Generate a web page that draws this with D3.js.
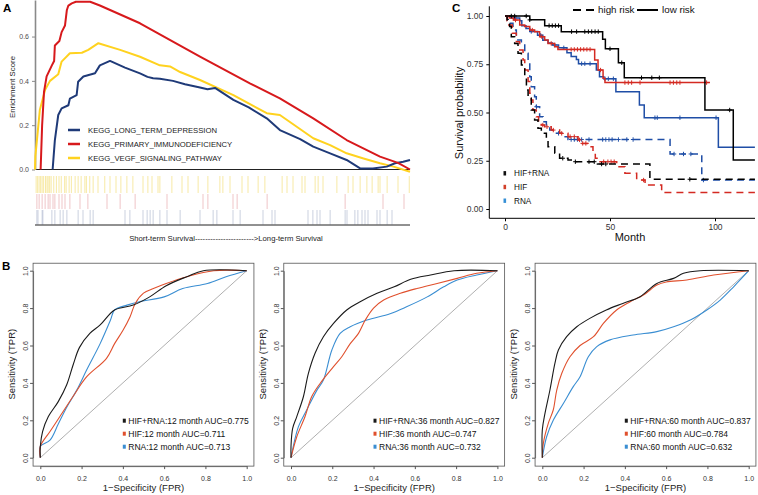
<!DOCTYPE html>
<html><head><meta charset="utf-8">
<script src="https://cdn.jsdelivr.net/npm/d3@7"></script>
<style>body{margin:0;background:#fff} svg{display:block;font-family:"Liberation Sans",Arial,sans-serif}</style>
</head><body><svg id="c" width="758" height="495"></svg>
<script>
// ---------- Panel A: GSEA ----------
const gseaNames = ["KEGG_LONG_TERM_DEPRESSION","KEGG_PRIMARY_IMMUNODEFICIENCY","KEGG_VEGF_SIGNALING_PATHWAY"];
const gseaColors = ["#1f3a78","#d7191c","#ffd21f"];
const gseaTicks = [0,0.2,0.4,0.6];
const esLTD = [[4.7,0],[5.3,0.133],[6.2,0.246],[7.1,0.276],[8.9,0.29],[9.3,0.32],[11.1,0.336],[11.5,0.396],[12.9,0.42],[16,0.434],[17.3,0.47],[20,0.49],[24,0.46],[28,0.434],[30,0.418],[31.5,0.412],[33.3,0.41],[36.8,0.40],[40,0.385],[44,0.37],[46,0.362],[48,0.368],[52.9,0.314],[57,0.28],[61.8,0.231],[65.3,0.178],[70.7,0.137],[74.2,0.103],[78.7,0.073],[83.1,0.043],[86.7,0.005],[90.1,0.005],[93.8,0.013],[96,0.028],[98.2,0.035],[100,0.043]];
const esPID = [[1.5,0],[1.9,0.2],[2.4,0.35],[3.1,0.42],[4.5,0.47],[5.1,0.49],[5.3,0.56],[6.5,0.58],[7.1,0.62],[8,0.65],[8.5,0.72],[8.9,0.74],[9.8,0.75],[10.9,0.757],[14.7,0.757],[17.3,0.74],[28,0.66],[44,0.509],[57.3,0.389],[65.3,0.321],[74.2,0.231],[83.1,0.133],[92,0.058],[96.8,0.03],[100,0]];
const esVEGF = [[0,0],[0.1,0.06],[1.3,0.27],[2.7,0.36],[4,0.40],[6.2,0.43],[7.1,0.487],[9.3,0.525],[12.5,0.527],[14.2,0.54],[16.9,0.57],[22.7,0.54],[28,0.509],[33.3,0.47],[36,0.465],[38.7,0.44],[44,0.404],[52.9,0.336],[61.8,0.254],[65.3,0.246],[74.2,0.141],[78.7,0.11],[83.1,0.073],[87.6,0.05],[92,0.028],[95.6,0.013],[100,-0.01]];
const hitsVEGF = [0.3,0.7,1.1,1.5,1.9,2.3,2.8,3.2,3.5,3.9,4.3,5.0,5.7,6.4,7.0,7.9,8.3,9.1,9.7,10.7,11.5,12.3,13.3,13.7,14.6,15.5,16.8,18.6,20,21.6,22.9,24.5,26.1,28.8,30.1,31.2,32.8,33.3,36.5,39.2,40.8,43.5,46.1,49.3,50.1,52,55.2,56.8,59.5,61.3,65.9,67.2,68.8,71.2,72,74.7,75.5,76.8,80.5,83.5,84.8,86.7,88.5,89.9,91.5,92,93.9,96.8,99.8];
const hitsPID = [0.5,1.1,1.9,2.7,3.5,4,4.8,5.3,6.4,7.2,8,9.3,12,14.1,19.2,22.7,26.7,35.2,44.8,46.1,52.8,53.9,61.9,82.7,92.8,98.4];
const hitsLTD = [0.5,0.8,1.9,2.1,4.5,5.3,6.7,7.5,8.5,11.5,12.8,14.7,15.5,24,25.3,28.8,29.9,30.7,31.5,33.3,35.2,38.7,44,47.5,48.5,52.8,54.7,60.8,63.2,64,72.8,74.1,75.2,76,78.7,82.7,83.2,85.3,86.1,87.2,88,88.8,91.2,92,93.9,95.2];

// ---------- Panel B: ROC ----------
const rocTitles = ["12 month","36 month","60 month"];
const rocAUC = [[0.775,0.711,0.713],[0.827,0.747,0.732],[0.837,0.784,0.632]];
const rocModels = ["HIF+RNA","HIF","RNA"];
const rocColors = ["#1a1a1a","#e0502d","#3a8ed2"];
const rocTicks = [0,0.2,0.4,0.6,0.8,1.0];
const roc12HR = [[0,0],[0,0.06],[0.011,0.14],[0.039,0.22],[0.087,0.30],[0.128,0.39],[0.16,0.50],[0.19,0.59],[0.24,0.665],[0.29,0.71],[0.36,0.79],[0.45,0.816],[0.53,0.86],[0.61,0.92],[0.71,0.968],[0.79,1.0],[1,1]];
const roc12H = [[0,0],[0,0.06],[0.047,0.14],[0.095,0.22],[0.16,0.33],[0.225,0.433],[0.32,0.53],[0.36,0.61],[0.40,0.68],[0.435,0.754],[0.46,0.825],[0.50,0.88],[0.548,0.905],[0.61,0.932],[0.71,0.968],[0.84,1.0],[1,1]];
const roc12R = [[0,0],[0,0.06],[0.047,0.094],[0.087,0.18],[0.128,0.27],[0.176,0.36],[0.225,0.47],[0.29,0.61],[0.34,0.736],[0.36,0.79],[0.42,0.816],[0.48,0.834],[0.6,0.86],[0.69,0.905],[0.81,0.932],[0.90,0.968],[1,1]];
const roc36HR = [[0,0],[0,0.06],[0.008,0.157],[0.028,0.22],[0.06,0.326],[0.084,0.45],[0.117,0.56],[0.157,0.647],[0.206,0.718],[0.27,0.79],[0.335,0.834],[0.417,0.879],[0.5,0.914],[0.58,0.954],[0.676,0.977],[0.79,1],[1,1]];
const roc36H = [[0,0],[0.028,0.112],[0.068,0.22],[0.1,0.326],[0.141,0.397],[0.206,0.487],[0.246,0.54],[0.287,0.61],[0.327,0.665],[0.36,0.736],[0.4,0.8],[0.449,0.843],[0.53,0.879],[0.61,0.905],[0.708,0.932],[0.805,0.959],[0.9,0.986],[1,1]];
const roc36R = [[0,0],[0.036,0.166],[0.076,0.255],[0.125,0.36],[0.157,0.415],[0.198,0.576],[0.238,0.665],[0.287,0.70],[0.368,0.736],[0.48,0.77],[0.56,0.807],[0.66,0.86],[0.74,0.914],[0.805,0.95],[0.9,0.977],[1,1]];
const roc60HR = [[0,0],[0,0.148],[0.013,0.237],[0.037,0.362],[0.061,0.504],[0.078,0.576],[0.118,0.647],[0.167,0.70],[0.23,0.745],[0.31,0.79],[0.39,0.825],[0.474,0.861],[0.555,0.932],[0.636,0.959],[0.684,0.986],[0.765,1.0],[1,1]];
const roc60H = [[0,0],[0.005,0.077],[0.029,0.184],[0.053,0.255],[0.07,0.362],[0.094,0.45],[0.134,0.54],[0.183,0.60],[0.248,0.647],[0.296,0.718],[0.36,0.79],[0.426,0.834],[0.49,0.87],[0.555,0.923],[0.6,0.94],[0.70,0.95],[0.83,0.977],[1,1]];
const roc60R = [[0,0],[0.021,0.112],[0.053,0.2],[0.102,0.29],[0.15,0.38],[0.183,0.433],[0.223,0.54],[0.264,0.594],[0.328,0.63],[0.44,0.656],[0.555,0.674],[0.636,0.70],[0.717,0.736],[0.797,0.79],[0.862,0.843],[0.927,0.914],[1,1]];

// ---------- Panel C: Kaplan-Meier ----------
const kmGroups = ["HIF+RNA","HIF","RNA"];
const kmLineColors = ["#000000","#d42a22","#1f4ea6"];
const kmKeyColors = ["#111111","#d2402a","#3690d6"];
const kmXTicks = [0,50,100];
const kmYTicks = [0,0.25,0.5,0.75,1];
const kmLowHR = [[0,1],[11.8,0.98],[18.9,0.95],[26.8,0.919],[46.5,0.88],[47.8,0.83],[54,0.758],[56.8,0.68],[95.2,0.513],[108.7,0.254]];
const kmLowHRcens = [3,4.6,10.1,11.8,21,22.5,24,25.5,31.7,34.1,38,39.7,41.3,42.9,44.4,50,55.6,65,69.9,73.5,107];
const kmHighHR = [[0,1],[1,0.98],[1.4,0.962],[2.2,0.945],[3,0.893],[4.6,0.858],[6.2,0.807],[7.8,0.746],[9.4,0.685],[10.2,0.617],[11,0.574],[12.5,0.513],[14.1,0.461],[15.7,0.418],[17.3,0.392],[19.7,0.366],[20.5,0.323],[23.7,0.289],[26,0.263],[30,0.254],[32.4,0.245],[44,0.233],[69,0.154]];
const kmHighHRcens = [27.5,33.5,40,42.5,46,48,88];
const kmLowHIF = [[0,1],[2,0.99],[4,0.979],[7,0.953],[9.4,0.945],[11.8,0.927],[14.1,0.919],[16.5,0.893],[18.9,0.876],[20.5,0.858],[23.7,0.841],[25.2,0.827],[42.7,0.772],[44.3,0.72],[46.7,0.677],[47.6,0.655]];
const kmLowHIFcens = [5,13,17.5,22,31.5,33,34.5,36,37.5,39,40.5,45.5,57.1,58.7,60.3,64.3,78.6,80.2,81.8,83.3,96];
const kmHighHIF = [[0,1],[1,0.975],[1.8,0.953],[3.5,0.91],[5.4,0.867],[7,0.824],[8.6,0.772],[9.4,0.72],[11,0.66],[11.8,0.6],[12.5,0.565],[13.3,0.513],[14.9,0.478],[16,0.45],[17.3,0.435],[18.9,0.426],[22,0.409],[26,0.392],[30,0.375],[34.8,0.358],[36.3,0.34],[39.5,0.323],[41.9,0.289],[43,0.263],[44.3,0.245],[53.2,0.219],[57.1,0.185],[62.7,0.150],[66.7,0.124],[74.6,0.085]];
const kmHighHIFcens = [18,20,23,27,31,33,35.5,37,38.5,47,49,50.5,52,66];
const kmLowRNA = [[0,1],[3,0.99],[7,0.975],[8,0.95],[10,0.935],[11.8,0.92],[15.5,0.90],[18,0.875],[20.5,0.86],[22.5,0.85],[25.5,0.835],[29.5,0.81],[31.5,0.79],[34,0.775],[35,0.753],[43.5,0.72],[45,0.685],[47,0.675],[52.8,0.608],[64,0.539],[66.3,0.473],[101.6,0.32]];
const kmLowRNAcens = [4.5,12.5,17,23.5,28,36.5,38,40.5,47.6,49.2,51.6,71.4,72.5,83.3,100.5];
const kmHighRNA = [[0,1],[1,0.98],[1.4,0.962],[3.8,0.927],[5.4,0.876],[7.8,0.858],[9.4,0.807],[11,0.772],[11.8,0.685],[12.5,0.634],[14.1,0.582],[14.9,0.53],[16.5,0.478],[18.1,0.452],[19.7,0.435],[21.3,0.409],[24.5,0.392],[28,0.375],[30,0.36],[78.6,0.285],[93.7,0.15]];
const kmHighRNAcens = [15,25.5,31.5,33,34.5,36.5,40,46.5,48,49.5,51,54,58,61,80.5,85,88.5,94.5];

const svg = d3.select("#c");
svg.append("rect").attr("width",758).attr("height",495).attr("fill","#fff");

// ===== Panel A =====
(function(){
  const g = svg.append("g");
  const x = d3.scaleLinear().domain([0,100]).range([35,410]);
  const y = d3.scaleLinear().domain([0,0.765]).range([169.5,0]);
  // rug
  const rows = [[hitsVEGF,"#f3dc6a",176,193],[hitsPID,"#e7a0a4",194,209],[hitsLTD,"#a9b3cc",210,224.5]];
  rows.forEach(([arr,col,y0,y1])=>{
    g.selectAll(null).data(arr).enter().append("line")
      .attr("x1",d=>x(d)).attr("x2",d=>x(d)).attr("y1",y0).attr("y2",y1)
      .attr("stroke",col).attr("stroke-width",1).attr("opacity",0.6);
  });
  g.append("line").attr("x1",35).attr("x2",410).attr("y1",225).attr("y2",225).attr("stroke","#222").attr("stroke-width",1);
  g.append("line").attr("x1",35).attr("x2",410).attr("y1",y(0)).attr("y2",y(0)).attr("stroke","#222").attr("stroke-width",1);
  // axis
  const ax = g.append("g").attr("transform","translate(35,0)")
    .call(d3.axisLeft(y).tickValues(gseaTicks).tickFormat(d3.format(".1f")).tickSize(3).tickSizeOuter(0));
  ax.select(".domain").attr("stroke","#8a8a8a").attr("stroke-width",1.6);
  ax.selectAll(".tick line").attr("stroke","#8a8a8a");
  ax.selectAll(".tick text").attr("fill","#4d4d4d").attr("font-size",7).attr("font-family","Liberation Sans, Arial, sans-serif");
  // curves
  const line = d3.line().x(d=>x(d[0])).y(d=>y(d[1]));
  [esVEGF, esLTD, esPID].forEach((s,i)=>{
    const ci = [2,0,1][i];
    g.append("path").attr("d",line(s)).attr("fill","none").attr("stroke",gseaColors[ci]).attr("stroke-width",2).attr("stroke-linejoin","round");
  });
  // legend
  gseaNames.forEach((n,i)=>{
    const yy = 130 + i*14;
    g.append("line").attr("x1",68).attr("x2",80).attr("y1",yy).attr("y2",yy).attr("stroke",gseaColors[i]).attr("stroke-width",2.5);
    g.append("text").attr("x",88).attr("y",yy).attr("dy","0.35em").attr("font-size",7.7).attr("fill","#222").text(n);
  });
  g.append("text").attr("transform","translate(15,87) rotate(-90)").attr("text-anchor","middle").attr("font-size",7.8).attr("fill","#222").text("Enrichment Score");
  g.append("text").attr("x",226).attr("y",241).attr("text-anchor","middle").attr("font-size",7.7).attr("fill","#222")
    .text("Short-term Survival" + "-".repeat(23) + ">Long-term Survival");
  g.append("text").attr("x",3).attr("y",11.7).attr("font-size",11.5).attr("font-weight","bold").text("A");
})();

// ===== Panel B =====
(function(){
  const sets = [[roc12HR,roc12H,roc12R],[roc36HR,roc36H,roc36R],[roc60HR,roc60H,roc60R]];
  const offs = [0,250.7,502];
  sets.forEach((curves,p)=>{
    const ox = offs[p];
    const g = svg.append("g");
    const x = d3.scaleLinear().domain([0,1]).range([40.3+ox,246.7+ox]);
    const y = d3.scaleLinear().domain([0,1]).range([457.7,270.7]);
    const bx0 = x(-0.035), bx1 = x(1.035), by0 = y(-0.045), by1 = y(1.04);
    g.append("rect").attr("x",bx0).attr("y",by1).attr("width",bx1-bx0).attr("height",by0-by1).attr("fill","none").attr("stroke","#555").attr("stroke-width",0.8);
    const axb = g.append("g").attr("transform",`translate(0,${by0})`).call(d3.axisBottom(x).tickValues(rocTicks).tickFormat(d3.format(".1f")).tickSize(3).tickPadding(7).tickSizeOuter(0));
    axb.select(".domain").attr("stroke","#555").attr("stroke-width",0.8);
    axb.selectAll(".tick line").attr("stroke","#555");
    axb.selectAll(".tick text").attr("font-size",7).attr("fill","#333").attr("font-family","Liberation Sans, Arial, sans-serif");
    const axl = g.append("g").attr("transform",`translate(${bx0},0)`).call(d3.axisLeft(y).tickValues(rocTicks).tickFormat(d3.format(".1f")).tickSize(3).tickSizeOuter(0));
    axl.select(".domain").attr("stroke","#555").attr("stroke-width",0.8);
    axl.selectAll(".tick line").attr("stroke","#555");
    axl.selectAll(".tick text").attr("font-size",7).attr("fill","#333").attr("font-family","Liberation Sans, Arial, sans-serif")
      .attr("transform","rotate(-90)").attr("x",0).attr("y",-5).attr("dy",0).attr("text-anchor","middle");
    g.append("line").attr("x1",x(0)).attr("y1",y(0)).attr("x2",x(1)).attr("y2",y(1)).attr("stroke","#8c8c8c").attr("stroke-width",0.7);
    const line = d3.line().x(d=>x(d[0])).y(d=>y(d[1])).curve(d3.curveCatmullRom.alpha(0.5));
    [2,1,0].forEach(i=>{
      g.append("path").attr("d",line(curves[i])).attr("fill","none").attr("stroke",rocColors[i]).attr("stroke-width",1.1);
    });
    rocModels.forEach((m,i)=>{
      const yy = 420.7 + i*13;
      g.append("rect").attr("x",122.8+ox).attr("y",yy-2).attr("width",3).attr("height",4).attr("fill",rocColors[i]);
      g.append("text").attr("x",128.3+ox).attr("y",yy).attr("dy","0.35em").attr("font-size",8.5).attr("fill","#111")
        .text(`${m}:${rocTitles[p]} AUC=${rocAUC[p][i].toFixed(3)}`);
    });
    g.append("text").attr("x",(x(0)+x(1))/2).attr("y",491).attr("text-anchor","middle").attr("font-size",9.5).attr("fill","#222").text("1\u2212Specificity (FPR)");
    g.append("text").attr("transform",`translate(${15+ox},${(y(0)+y(1))/2}) rotate(-90)`).attr("text-anchor","middle").attr("font-size",9.5).attr("fill","#222").text("Sensitivity (TPR)");
  });
  svg.append("text").attr("x",2).attr("y",270).attr("font-size",11.5).attr("font-weight","bold").text("B");
})();

// ===== Panel C =====
(function(){
  const g = svg.append("g");
  const x = d3.scaleLinear().domain([0,119]).range([505,754.9]);
  const y = d3.scaleLinear().domain([0,1]).range([209,16]);
  const axX = 489.3, axY = 218.3;
  g.append("line").attr("x1",axX).attr("x2",755).attr("y1",axY).attr("y2",axY).attr("stroke","#000").attr("stroke-width",1);
  g.append("line").attr("x1",axX).attr("x2",axX).attr("y1",6.3).attr("y2",axY).attr("stroke","#000").attr("stroke-width",1);
  const ay = g.append("g").attr("transform",`translate(${axX},0)`).call(d3.axisLeft(y).tickValues(kmYTicks).tickFormat(d3.format(".2f")).tickSize(3));
  ay.select(".domain").remove();
  ay.selectAll(".tick line").attr("stroke","#000");
  ay.selectAll(".tick text").attr("font-size",8.5).attr("fill","#333").attr("font-family","Liberation Sans, Arial, sans-serif");
  const axb = g.append("g").attr("transform",`translate(0,${axY})`).call(d3.axisBottom(x).tickValues(kmXTicks).tickSize(3));
  axb.select(".domain").remove();
  axb.selectAll(".tick line").attr("stroke","#000");
  axb.selectAll(".tick text").attr("font-size",8.5).attr("fill","#333").attr("font-family","Liberation Sans, Arial, sans-serif");

  const line = d3.line().x(d=>x(d[0])).y(d=>y(d[1])).curve(d3.curveStepAfter);
  function survAt(steps,t){ let s=1; for(const p of steps){ if(p[0]<=t) s=p[1]; } return s; }
  function drawKM(steps,cens,end,color,dashed){
    const pts = steps.concat([[end, steps[steps.length-1][1]]]);
    g.append("path").attr("d",line(pts)).attr("fill","none").attr("stroke",color).attr("stroke-width",1.5)
      .attr("stroke-dasharray",dashed?"7,5":null);
    cens.forEach(t=>{
      const cx=x(t), cy=y(survAt(steps,t));
      g.append("path").attr("d",`M${cx-2.2},${cy}H${cx+2.2}M${cx},${cy-2.2}V${cy+2.2}`).attr("stroke",color).attr("stroke-width",1);
    });
  }
  drawKM(kmHighRNA,kmHighRNAcens,119,kmLineColors[2],true);
  drawKM(kmHighHIF,kmHighHIFcens,119,kmLineColors[1],true);
  drawKM(kmHighHR,kmHighHRcens,119,kmLineColors[0],true);
  drawKM(kmLowRNA,kmLowRNAcens,119,kmLineColors[2],false);
  drawKM(kmLowHIF,kmLowHIFcens,97.6,kmLineColors[1],false);
  drawKM(kmLowHR,kmLowHRcens,119,kmLineColors[0],false);

  // legends
  g.append("line").attr("x1",573).attr("x2",594).attr("y1",10).attr("y2",10).attr("stroke","#000").attr("stroke-width",2).attr("stroke-dasharray","8,5");
  g.append("text").attr("x",598).attr("y",10).attr("dy","0.35em").attr("font-size",9.8).attr("fill","#111").text("high risk");
  g.append("line").attr("x1",637).attr("x2",658).attr("y1",10).attr("y2",10).attr("stroke","#000").attr("stroke-width",2);
  g.append("text").attr("x",662).attr("y",10).attr("dy","0.35em").attr("font-size",9.8).attr("fill","#111").text("low risk");
  kmGroups.forEach((n,i)=>{
    const yy = 173.3 + i*13.7;
    g.append("rect").attr("x",503.5).attr("y",yy-2.2).attr("width",2.6).attr("height",4.4).attr("fill",kmKeyColors[i]);
    g.append("text").attr("x",514).attr("y",yy).attr("dy","0.35em").attr("font-size",8.2).attr("fill","#111").text(n);
  });
  g.append("text").attr("x",(x(0)+755)/2).attr("y",241).attr("text-anchor","middle").attr("font-size",11).attr("fill","#111").text("Month");
  g.append("text").attr("transform","translate(463,113) rotate(-90)").attr("text-anchor","middle").attr("font-size",11).attr("fill","#111").text("Survival probability");
  g.append("text").attr("x",452).attr("y",11.7).attr("font-size",11.5).attr("font-weight","bold").text("C");
})();
</script></body></html>
